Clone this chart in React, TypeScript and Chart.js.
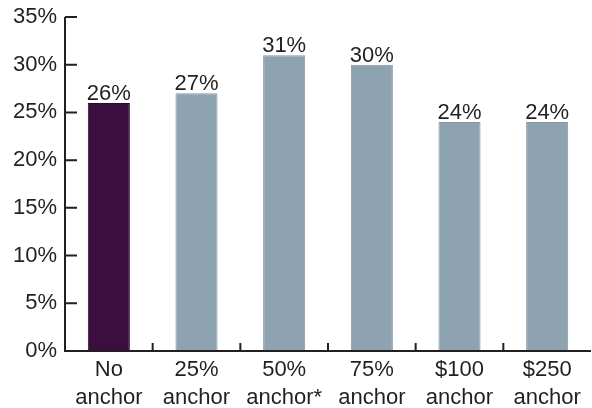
import React, { useEffect, useRef } from "react";
import { Chart, registerables } from "chart.js";

Chart.register(...registerables);

const categories: string[][] = [
  ["No", "anchor"],
  ["25%", "anchor"],
  ["50%", "anchor*"],
  ["75%", "anchor"],
  ["$100", "anchor"],
  ["$250", "anchor"],
];
const shares: number[] = [26, 27, 31, 30, 24, 24];
const barColors: string[] = ["#3a0f3f", "#8da3b1", "#8da3b1", "#8da3b1", "#8da3b1", "#8da3b1"];
const barBorders: string[] = ["#2a0a2e", "#8a969e", "#8a969e", "#8a969e", "#8a969e", "#8a969e"];
const yTickValues: number[] = [0, 5, 10, 15, 20, 25, 30, 35];

const INK = "#231f20";
const FONT = "'Liberation Sans', Arial, sans-serif";
const FONT_SIZE = 22;

// Axis lines with inward ticks, plus value labels above each bar
const decorations = {
  id: "decorations",
  afterDraw(chart: any) {
    const { ctx, chartArea } = chart;
    const x = chart.scales.x;
    const y = chart.scales.y;
    ctx.save();
    ctx.strokeStyle = INK;
    ctx.lineWidth = 2;
    ctx.beginPath();
    ctx.moveTo(chartArea.left, y.getPixelForValue(35));
    ctx.lineTo(chartArea.left, chartArea.bottom);
    ctx.lineTo(chartArea.right, chartArea.bottom);
    ctx.stroke();

    ctx.beginPath();
    for (const v of yTickValues) {
      const py = y.getPixelForValue(v);
      ctx.moveTo(chartArea.left, py);
      ctx.lineTo(chartArea.left + 12, py);
    }
    for (let i = 1; i < categories.length; i++) {
      const px = (x.getPixelForValue(i - 1) + x.getPixelForValue(i)) / 2;
      ctx.moveTo(px, chartArea.bottom);
      ctx.lineTo(px, chartArea.bottom - 8);
    }
    ctx.stroke();

    const meta = chart.getDatasetMeta(0);
    ctx.fillStyle = INK;
    ctx.font = `${FONT_SIZE}px ${FONT}`;
    ctx.textAlign = "center";
    ctx.textBaseline = "alphabetic";
    meta.data.forEach((bar: any, i: number) => {
      ctx.fillText(`${shares[i]}%`, bar.x, bar.y - 3);
    });
    ctx.restore();
  },
};

export default function App() {
  const canvasRef = useRef<HTMLCanvasElement | null>(null);

  useEffect(() => {
    if (!canvasRef.current) return;
    const chart = new Chart(canvasRef.current, {
      type: "bar",
      data: {
        labels: categories,
        datasets: [
          {
            data: shares,
            backgroundColor: barColors,
            borderColor: barBorders,
            borderWidth: 1,
            categoryPercentage: 1,
            barPercentage: 0.48,
          },
        ],
      },
      options: {
        animation: false,
        responsive: false,
        maintainAspectRatio: false,
        layout: { padding: { top: 17, right: 1, left: 0, bottom: 0 } },
        plugins: { legend: { display: false }, tooltip: { enabled: false } },
        scales: {
          x: {
            grid: { display: false, drawTicks: false },
            border: { display: false },
            ticks: {
              color: INK,
              font: { family: FONT, size: FONT_SIZE, lineHeight: 1.27 },
              padding: 5,
              maxRotation: 0,
              autoSkip: false,
            },
            afterFit(scale: any) {
              scale.height = 57;
            },
          },
          y: {
            min: 0,
            max: 35,
            grid: { display: false, drawTicks: false },
            border: { display: false },
            ticks: {
              stepSize: 5,
              color: INK,
              font: { family: FONT, size: FONT_SIZE },
              padding: 8,
              callback: (v: any) => `${v}%`,
            },
            afterFit(scale: any) {
              scale.width = 65;
              scale.paddingTop = 0;
              scale.paddingBottom = 0;
            },
          },
        },
      },
      plugins: [decorations],
    });
    return () => chart.destroy();
  }, []);

  return (
    <div style={{ position: "fixed", left: 0, top: 0, width: 592, height: 408, background: "#fff" }}>
      <canvas ref={canvasRef} width={592} height={408} />
    </div>
  );
}
